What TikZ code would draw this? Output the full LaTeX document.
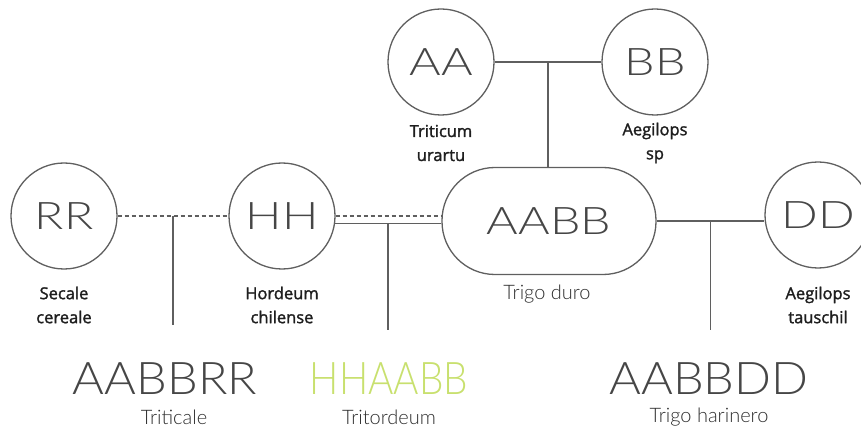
\documentclass[tikz,border=0pt]{standalone}
\usepackage{fontspec}
\setmainfont{Open Sans}
\newfontfamily\labelfont[FakeBold=1.6]{Open Sans}
\newfontfamily\thinfont{Lato Light}
\newfontfamily\widefont[FakeStretch=1.27]{Lato Light}
\newfontfamily\hybridfont[FakeStretch=1.08]{Lato Light}
\newfontfamily\narrowfont[FakeStretch=0.86]{Lato Light}
\usetikzlibrary{positioning,calc}
\definecolor{linegray}{RGB}{95,95,95}
\definecolor{textgray}{RGB}{70,70,70}
\definecolor{namegray}{RGB}{45,45,45}
\definecolor{labelblack}{RGB}{30,30,30}
\definecolor{tritogreen}{RGB}{200,224,110}
\tikzset{
  gene/.style={circle, draw=linegray, line width=1.3pt, minimum size=106pt, inner sep=0pt,
    text=textgray, font=\widefont\fontsize{38}{38}\selectfont},
  genome/.style={draw=linegray, line width=1.3pt, rounded corners=53pt, minimum width=214pt,
    minimum height=107pt, inner sep=0pt, text=textgray, font=\widefont\fontsize{38}{38}\selectfont},
  species/.style={align=center, text=labelblack, font=\labelfont\fontsize{16.5}{24}\selectfont},
  common/.style={text=namegray, font=\thinfont\fontsize{20}{24}\selectfont},
  hybrid/.style={text=textgray, font=\hybridfont\fontsize{45}{45}\selectfont},
  link/.style={draw=linegray, line width=1.8pt},
  cross/.style={draw=linegray, line width=1.4pt, dash pattern=on 4pt off 3pt},
}
\begin{document}
\begin{tikzpicture}[x=1pt, y=-1pt]
\useasboundingbox (0,0) rectangle (861,430);
% parent genomes
\node[gene] (aa) at (441,62) {AA};
\node[gene] (bb) at (655,62) {BB};
\node[gene] (rr) at (64,216) {RR};
\node[gene] (hh) at (282,216) {HH};
\node[genome] (aabb) at (549,221) {AABB};
\node[gene] (dd) at (818,215) {DD};

% species names
\node[species] (aaname) at (441,143) {Triticum\\urartu};
\node[species] (bbname) at (655,143) {Aegilops\\sp};
\node[species] (rrname) at (64,305) {Secale\\cereale};
\node[species] (hhname) at (282,305) {Hordeum\\chilense};
\node[species] (ddname) at (818,305) {Aegilops\\tauschil};
\node[common] (aabbname) at (547,294) {Trigo duro};

% hybrids
\node[hybrid] (triticale) at (165,379) {AABBRR};
\node[hybrid, text=tritogreen, font=\narrowfont\fontsize{45}{45}\selectfont] (tritordeum) at (389,379) {HHAABB};
\node[hybrid] (harinero) at (709,379) {AABBDD};
\node[common] (triticalename) at (174,417) {Triticale};
\node[common] (tritordeumname) at (389,417) {Tritordeum};
\node[common] (harineroname) at (709,417) {Trigo harinero};

% crosses
\draw[link] (aa) -- (bb) coordinate[midway] (aabbcross);
\draw[link] (aabbcross) -- (aabbcross |- aabb.north);

\draw[cross] (rr.east) -- (hh.west) coordinate[midway] (rrcross);
\coordinate (rrend) at (rrcross |- 0,325);
\draw[link] (rrcross) -- (rrend);

\draw[cross] (hh.east) -- (hh.east -| aabb.west);
\draw[link] (hh.-8) -- (hh.-8 -| aabb.west) coordinate[midway] (hhcross);
\coordinate (hhend) at (hhcross |- 0,330);
\draw[link] (hhcross) -- (hhend);

\draw[link] (aabb.east) -- (aabb.east -| dd.west) coordinate[midway] (ddcross);
\coordinate (ddend) at (ddcross |- 0,330);
\draw[link] (ddcross) -- (ddend);
\end{tikzpicture}
\end{document}
